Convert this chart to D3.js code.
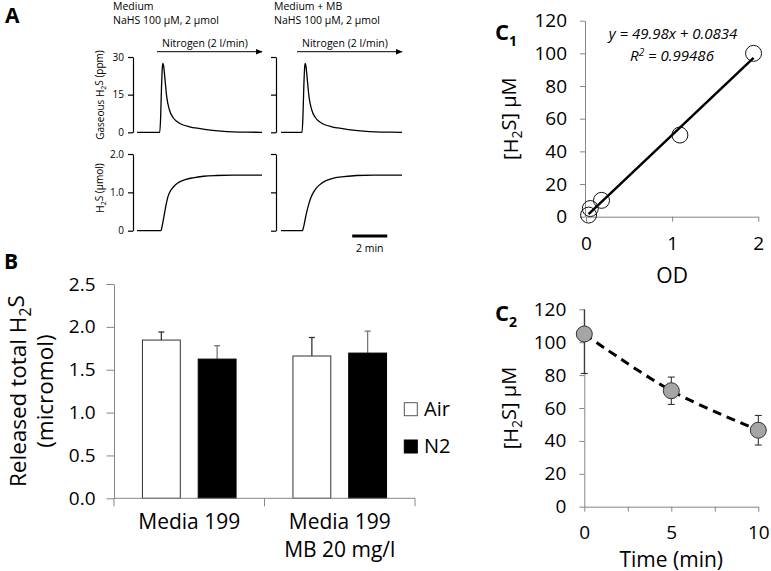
<!DOCTYPE html>
<html><head><meta charset="utf-8">
<script src="https://cdn.jsdelivr.net/npm/d3@7"></script>
<style>body{margin:0;background:#fff} svg{display:block} text{font-family:"Open Sans",sans-serif;fill:#000}</style>
</head><body><svg id="c" width="771" height="571"></svg>
<script>
// ---------------- DATA ----------------
// Panel A traces: [time (min), value]
const gasMedium = [[0,0],[1.3,0],[1.35,6],[1.4,18],[1.45,26],[1.48,27.5],[1.52,26.5],[1.6,21],[1.7,14],[1.85,9],[2.05,6],[2.3,4.2],[2.6,3],[3.0,2.2],[3.6,1.5],[4.2,0.9],[4.8,0.5],[5.5,0.2],[6.3,0.05],[7.14,0]];
const gasMB = [[0,0],[1.2,0],[1.25,6],[1.3,18],[1.35,26],[1.38,27.5],[1.42,26.5],[1.5,21],[1.6,14],[1.75,9],[1.95,6],[2.2,4.2],[2.5,3],[2.9,2.2],[3.5,1.5],[4.1,0.9],[4.7,0.5],[5.4,0.2],[6.2,0.05],[6.9,0]];
const amtMedium = [[0,0],[1.37,0],[1.45,0.15],[1.55,0.4],[1.65,0.65],[1.77,0.89],[1.9,1.03],[2.0,1.1],[2.2,1.2],[2.46,1.28],[2.8,1.34],[3.2,1.38],[3.8,1.42],[4.5,1.44],[5.5,1.45],[7.14,1.45]];
const amtMB = [[0,0],[1.22,0],[1.3,0.12],[1.4,0.35],[1.5,0.55],[1.6,0.72],[1.72,0.88],[1.85,1.0],[2.05,1.13],[2.3,1.23],[2.6,1.31],[3.0,1.37],[3.6,1.41],[4.3,1.44],[5.3,1.45],[6.9,1.45]];
const gasTicks = [0, 15, 30];
const gasTickLabels = ["0", "15", "30"];
const amtTicks = [0, 1, 2];
const amtTickLabels = ["0", "1.0", "2.0"];
const scaleBarMinutes = 2;

// Panel B
const categoriesB = ["Media 199", "Media 199\nMB 20 mg/l"];
const seriesB = ["Air", "N2"];
const meanAir = [1.846, 1.66];
const errAir = [0.094, 0.216];
const meanN2 = [1.624, 1.694];
const errN2 = [0.156, 0.256];
const bTicks = [0, 0.5, 1.0, 1.5, 2.0, 2.5];

// Panel C1
const odC1 = [0.03, 0.05, 0.18, 1.09, 1.945];
const concC1 = [1, 5, 10, 50, 100];
const fitSlope = 49.98, fitIntercept = 0.0834;
const c1YTicks = [0, 20, 40, 60, 80, 100, 120];
const c1XTicks = [0, 1, 2];

// Panel C2
const timeC2 = [0, 5, 10];
const concC2 = [105, 70.5, 46.5];
const errC2 = [24, 8.3, 9];
const c2YTicks = [0, 20, 40, 60, 80, 100, 120];
const c2XTicks = [0, 2.5, 5, 7.5, 10];

// ---------------- DRAW ----------------
const svg = d3.select("#c");
const GRAY = "#868686";

function subText(g, parts) {
  let prevSub = false;
  parts.forEach(([t, s]) => {
    const ts = g.append("tspan").text(t);
    if (s) { ts.attr("dy", "0.3em").attr("font-size", "70%"); prevSub = true; }
    else if (prevSub) { ts.attr("dy", "-0.3em"); prevSub = false; }
  });
}

// panel letters
function letter(x, y, t, subT, fs) {
  const tx = svg.append("text").attr("x", x).attr("y", y)
    .attr("font-family", "Liberation Sans, Arial, sans-serif").attr("font-weight", "bold")
    .attr("font-size", fs || 22).text(t);
  if (subT) tx.append("tspan").attr("dy", 6).attr("font-size", 14).text(subT);
}
letter(5, 23, "A", null, 21);
letter(4, 269, "B", null, 21);
letter(495, 40, "C", "1");
letter(495, 321, "C", "2");

// ---- Panel A ----
const tScale1 = d3.scaleLinear().domain([0, 7.14]).range([137, 262]);
const tScale2 = d3.scaleLinear().domain([0, 6.9]).range([281, 402]);
const gasY = d3.scaleLinear().domain([0, 30]).range([132.3, 57]);
const amtY = d3.scaleLinear().domain([0, 2]).range([230.7, 154]);

svg.append("defs").append("marker").attr("id", "arr").attr("viewBox", "0 0 10 10")
  .attr("refX", 9).attr("refY", 5).attr("markerWidth", 7).attr("markerHeight", 7)
  .attr("markerUnits", "userSpaceOnUse").attr("orient", "auto")
  .append("path").attr("d", "M0,1L10,5L0,9z").attr("fill", "#000");

function aAxis(x, scale, ticks, labels, show) {
  const ax = d3.axisLeft(scale).tickValues(ticks).tickSize(5).tickSizeOuter(0).tickPadding(4)
    .tickFormat((d, i) => show ? labels[i] : "");
  const g = svg.append("g").attr("transform", `translate(${x},0)`).call(ax);
  g.selectAll("path,line").attr("stroke", "#000").attr("stroke-width", 1.2);
  g.selectAll("text").attr("font-size", 10).attr("font-family", '"Open Sans",sans-serif');
}
aAxis(133, gasY, gasTicks, gasTickLabels, true);
aAxis(133, amtY, amtTicks, amtTickLabels, true);
aAxis(276, gasY, gasTicks, gasTickLabels, false);
aAxis(276, amtY, amtTicks, amtTickLabels, false);

function trace(data, xs, ys) {
  svg.append("path").datum(data)
    .attr("d", d3.line().x(d => xs(d[0])).y(d => ys(d[1])).curve(d3.curveMonotoneX))
    .attr("fill", "none").attr("stroke", "#000").attr("stroke-width", 1.3);
}
trace(gasMedium, tScale1, gasY);
trace(amtMedium, tScale1, amtY);
trace(gasMB, tScale2, gasY);
trace(amtMB, tScale2, amtY);

function header(x, l1, ax1, ax2, nx) {
  svg.append("text").attr("x", x).attr("y", 10).attr("font-size", 10.5).text(l1);
  svg.append("text").attr("x", x).attr("y", 23.5).attr("font-size", 10.5).text("NaHS 100 µM, 2 µmol");
  svg.append("text").attr("x", nx).attr("y", 46.5).attr("font-size", 10.5).text("Nitrogen (2 l/min)");
  svg.append("line").attr("x1", ax1).attr("x2", ax2).attr("y1", 51.7).attr("y2", 51.7)
    .attr("stroke", "#000").attr("stroke-width", 1).attr("marker-end", "url(#arr)");
}
header(113, "Medium", 157, 262, 162);
header(274, "Medium + MB", 297, 402, 302);

const ylA1 = svg.append("text").attr("transform", "translate(104,95) rotate(-90)")
  .attr("text-anchor", "middle").attr("font-size", 10);
subText(ylA1, [["Gaseous H", false], ["2", true], ["S (ppm)", false]]);
const ylA2 = svg.append("text").attr("transform", "translate(104,188) rotate(-90)")
  .attr("text-anchor", "middle").attr("font-size", 10);
subText(ylA2, [["H", false], ["2", true], ["S (µmol)", false]]);

// scale bar
const sbStart = 4.06;
svg.append("line").attr("x1", tScale2(sbStart)).attr("x2", tScale2(sbStart + scaleBarMinutes))
  .attr("y1", 236).attr("y2", 236).attr("stroke", "#000").attr("stroke-width", 3);
svg.append("text").attr("x", (tScale2(sbStart) + tScale2(sbStart + scaleBarMinutes)) / 2)
  .attr("y", 252).attr("text-anchor", "middle").attr("font-size", 10.5).text(scaleBarMinutes + " min");

// ---- Panel B ----
const xB = d3.scaleBand().domain(categoriesB).range([114, 415]).padding(0);
const xSub = d3.scaleBand().domain(seriesB).range([0, xB.bandwidth()]).paddingInner(0.321).paddingOuter(0.51);
const yB = d3.scaleLinear().domain([0, 2.5]).range([498.3, 284]);

const gBy = svg.append("g").attr("transform", "translate(114,0)")
  .call(d3.axisLeft(yB).tickValues(bTicks).tickFormat(d3.format(".1f")).tickSize(7.5).tickSizeOuter(0).tickPadding(11));
gBy.selectAll("path,line").attr("stroke", GRAY);
gBy.selectAll("text").attr("font-size", 19).attr("font-family", '"Open Sans",sans-serif');

const barData = [];
categoriesB.forEach((c, i) => {
  barData.push({ c, s: "Air", v: meanAir[i], e: errAir[i] });
  barData.push({ c, s: "N2", v: meanN2[i], e: errN2[i] });
});
barData.forEach(d => {
  const cx = xB(d.c) + xSub(d.s) + xSub.bandwidth() / 2;
  const col = d.s === "Air" ? "#333" : "#777";
  svg.append("line").attr("x1", cx).attr("x2", cx).attr("y1", yB(d.v)).attr("y2", yB(d.v + d.e))
    .attr("stroke", col).attr("stroke-width", 1.3);
  svg.append("line").attr("x1", cx - 3).attr("x2", cx + 3).attr("y1", yB(d.v + d.e)).attr("y2", yB(d.v + d.e))
    .attr("stroke", col).attr("stroke-width", 1.3);
});
svg.selectAll("rect.bar").data(barData).join("rect").attr("class", "bar")
  .attr("x", d => xB(d.c) + xSub(d.s)).attr("width", xSub.bandwidth())
  .attr("y", d => yB(d.v)).attr("height", d => yB(0) - yB(d.v))
  .attr("fill", d => d.s === "Air" ? "#fff" : "#000")
  .attr("stroke", d => d.s === "Air" ? "#333" : "#000").attr("stroke-width", 1);

svg.append("line").attr("x1", 114).attr("x2", 415).attr("y1", yB(0)).attr("y2", yB(0)).attr("stroke", GRAY);
const edges = [xB(categoriesB[0])].concat(categoriesB.map(c => xB(c) + xB.bandwidth()));
edges.forEach(x => svg.append("line").attr("x1", x).attr("x2", x).attr("y1", yB(0)).attr("y2", yB(0) + 8).attr("stroke", GRAY));
categoriesB.forEach(c => {
  c.split("\n").forEach((ln, j) => {
    svg.append("text").attr("x", xB(c) + xB.bandwidth() / 2).attr("y", 529 + j * 27.7)
      .attr("text-anchor", "middle").attr("font-size", 21).text(ln);
  });
});
const ylB1 = svg.append("text").attr("transform", `translate(26,${(yB(0) + yB(2.5)) / 2}) rotate(-90)`)
  .attr("text-anchor", "middle").attr("font-size", 22.5);
subText(ylB1, [["Released total H", false], ["2", true], ["S", false]]);
svg.append("text").attr("transform", `translate(53,${(yB(0) + yB(2.5)) / 2}) rotate(-90)`)
  .attr("text-anchor", "middle").attr("font-size", 22.5).text("(micromol)");
seriesB.forEach((s, i) => {
  const y0 = 402.7 + i * 37.3;
  svg.append("rect").attr("x", 404.3).attr("y", y0).attr("width", 13).attr("height", 13)
    .attr("fill", s === "Air" ? "#fff" : "#000").attr("stroke", s === "Air" ? "#555" : "#000");
  svg.append("text").attr("x", 424).attr("y", y0 + 13).attr("font-size", 20).text(s);
});

// ---- Panel C1 ----
const xC1 = d3.scaleLinear().domain([0, 2]).range([586, 758.3]);
const yC1 = d3.scaleLinear().domain([0, 120]).range([216.7, 20.7]);
const gC1y = svg.append("g").attr("transform", "translate(585,0)")
  .call(d3.axisLeft(yC1).tickValues(c1YTicks).tickSize(5).tickSizeOuter(0).tickPadding(13));
const gC1x = svg.append("g").attr("transform", `translate(0,${yC1(0)})`)
  .call(d3.axisBottom(xC1).tickValues(c1XTicks).tickFormat(d3.format("d")).tickSize(5).tickSizeOuter(0).tickPadding(15));
[gC1y, gC1x].forEach(g => {
  g.selectAll("path,line").attr("stroke", GRAY);
  g.selectAll("text").attr("font-size", 19).attr("font-family", '"Open Sans",sans-serif');
});
svg.append("text").attr("x", xC1(1)).attr("y", 283).attr("text-anchor", "middle").attr("font-size", 21).text("OD");
const ylC1 = svg.append("text").attr("transform", `translate(518,${(yC1(0) + yC1(120)) / 2}) rotate(-90)`)
  .attr("text-anchor", "middle").attr("font-size", 20);
subText(ylC1, [["[H", false], ["2", true], ["S] µM", false]]);
const odMin = d3.min(odC1), odMax = d3.max(odC1);
svg.append("line").attr("x1", xC1(odMin)).attr("y1", yC1(fitSlope * odMin + fitIntercept))
  .attr("x2", xC1(odMax)).attr("y2", yC1(fitSlope * odMax + fitIntercept))
  .attr("stroke", "#000").attr("stroke-width", 2.5);
svg.selectAll("circle.c1").data(odC1.map((o, i) => [o, concC1[i]])).join("circle").attr("class", "c1")
  .attr("cx", d => xC1(d[0])).attr("cy", d => yC1(d[1])).attr("r", 8)
  .attr("fill", "none").attr("stroke", "#111").attr("stroke-width", 1);
svg.append("text").attr("x", 673).attr("y", 38.5).attr("text-anchor", "middle").attr("font-size", 15)
  .attr("font-style", "italic").text(`y = ${fitSlope}x + ${fitIntercept}`);
const r2 = svg.append("text").attr("x", 672).attr("y", 61).attr("text-anchor", "middle").attr("font-size", 15)
  .attr("font-style", "italic");
r2.append("tspan").text("R");
r2.append("tspan").attr("dy", -5).attr("font-size", 10).text("2");
r2.append("tspan").attr("dy", 5).text(" = 0.99486");

// ---- Panel C2 ----
const xC2 = d3.scaleLinear().domain([0, 10]).range([584.3, 758.3]);
const yC2 = d3.scaleLinear().domain([0, 120]).range([506.7, 309.3]);
const gC2y = svg.append("g").attr("transform", "translate(584.3,0)")
  .call(d3.axisLeft(yC2).tickValues(c2YTicks).tickSize(5).tickSizeOuter(0).tickPadding(13));
const gC2x = svg.append("g").attr("transform", `translate(0,${yC2(0)})`)
  .call(d3.axisBottom(xC2).tickValues(c2XTicks).tickSize(5).tickSizeOuter(0).tickPadding(14)
    .tickFormat(d => d % 5 === 0 ? d : ""));
[gC2y, gC2x].forEach(g => {
  g.selectAll("path,line").attr("stroke", GRAY);
  g.selectAll("text").attr("font-size", 19).attr("font-family", '"Open Sans",sans-serif');
});
svg.append("text").attr("x", xC2(5)).attr("y", 566.5).attr("text-anchor", "middle").attr("font-size", 21).text("Time (min)");
const ylC2 = svg.append("text").attr("transform", `translate(518,${(yC2(0) + yC2(120)) / 2}) rotate(-90)`)
  .attr("text-anchor", "middle").attr("font-size", 20);
subText(ylC2, [["[H", false], ["2", true], ["S] µM", false]]);
const c2pts = timeC2.map((t, i) => ({ t, v: concC2[i], e: errC2[i] }));
c2pts.forEach(d => {
  const cx = xC2(d.t);
  const top = Math.min(d.v + d.e, 120), bot = d.v - d.e;
  svg.append("line").attr("x1", cx).attr("x2", cx).attr("y1", yC2(top)).attr("y2", yC2(bot)).attr("stroke", "#222").attr("stroke-width", 1);
  if (d.v + d.e <= 120) svg.append("line").attr("x1", cx - 3.5).attr("x2", cx + 3.5).attr("y1", yC2(top)).attr("y2", yC2(top)).attr("stroke", "#222");
  svg.append("line").attr("x1", cx - 3.5).attr("x2", cx + 3.5).attr("y1", yC2(bot)).attr("y2", yC2(bot)).attr("stroke", "#222");
});
svg.append("path").datum(c2pts)
  .attr("d", d3.line().x(d => xC2(d.t)).y(d => yC2(d.v)).curve(d3.curveCatmullRom.alpha(0.5)))
  .attr("fill", "none").attr("stroke", "#000").attr("stroke-width", 3).attr("stroke-dasharray", "9,6");
svg.selectAll("circle.c2").data(c2pts).join("circle").attr("class", "c2")
  .attr("cx", d => xC2(d.t)).attr("cy", d => yC2(d.v)).attr("r", 8)
  .attr("fill", "#a5a5a5").attr("stroke", "#333").attr("stroke-width", 1);
</script></body></html>
